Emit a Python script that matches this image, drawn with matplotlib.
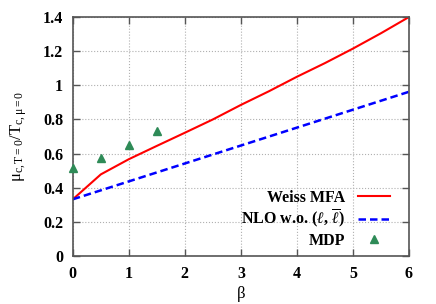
import matplotlib
matplotlib.use('Agg')
import matplotlib.pyplot as plt

plt.rcParams['font.family'] = ['Liberation Serif', 'DejaVu Serif']
plt.rcParams['font.weight'] = 'bold'
plt.rcParams['mathtext.fontset'] = 'custom'
plt.rcParams['mathtext.rm'] = 'Liberation Serif:bold'
plt.rcParams['mathtext.it'] = 'Liberation Serif:italic:bold'
plt.rcParams['mathtext.bf'] = 'Liberation Serif:bold'

# Weiss mean-field approximation
weiss_beta = [0, 0.5, 1, 1.5, 2, 2.5, 3, 3.5, 4, 4.5, 5, 5.5, 6]
weiss_mu = [0.332, 0.478, 0.567, 0.645, 0.722, 0.80, 0.885, 0.965, 1.05, 1.13, 1.215, 1.305, 1.40]

# NLO without Polyakov loops
nlo_beta = [0, 1, 2, 3, 4, 5, 6]
nlo_mu = [0.332, 0.437, 0.542, 0.647, 0.752, 0.857, 0.962]

# MDP points
mdp_beta = [0, 0.5, 1, 1.5]
mdp_mu = [0.515, 0.575, 0.65, 0.73]

fig = plt.figure(figsize=(4.36, 3.04), dpi=100)
ax = fig.add_axes([0.167, 0.158, 0.771, 0.786])

ax.plot(weiss_beta, weiss_mu, color='#ff0000', lw=1.5, label='Weiss MFA')
ax.plot(nlo_beta, nlo_mu, color='#0000ff', lw=1.8, ls=(0, (3, 1.6)),
        label=r'NLO w.o. ($\ell$, $\overline{\ell}$)')
ax.plot(mdp_beta, mdp_mu, ls='none', marker='^', ms=6, color='#2e8b57',
        label='MDP', clip_on=False, zorder=5)

ax.set_xlim(0, 6)
ax.set_ylim(0, 1.4)
ax.set_xticks(range(7))
ax.set_yticks([0, 0.2, 0.4, 0.6, 0.8, 1, 1.2, 1.4])
ax.set_yticklabels(['0', '0.2', '0.4', '0.6', '0.8', '1', '1.2', '1.4'])
ax.tick_params(direction='in', top=True, right=True, length=5, width=1,
               color='#555555', labelsize=11.5, pad=7)
for s in ax.spines.values():
    s.set_color('#555555')
    s.set_linewidth(1.2)
ax.grid(True, ls=':', color='#b0b0b0', lw=0.8)

ax.set_xlabel(r'$\mathregular{\beta}$', fontsize=12, fontweight='normal', labelpad=2)
ax.set_ylabel(r'$\mathregular{\mu_{c,T=0}/T_{c,\mu=0}}$', fontsize=12, labelpad=10)

leg = ax.legend(loc='lower right', frameon=False, markerfirst=False,
                fontsize=11.5, handlelength=2.0, borderaxespad=0, borderpad=0,
                bbox_to_anchor=(0.943, 0.03),
                labelspacing=0.15, handletextpad=0.8)
for t in leg.get_texts():
    t.set_ha('right')
leg._legend_box.align = 'right'

fig.savefig('out.png', dpi=100)
